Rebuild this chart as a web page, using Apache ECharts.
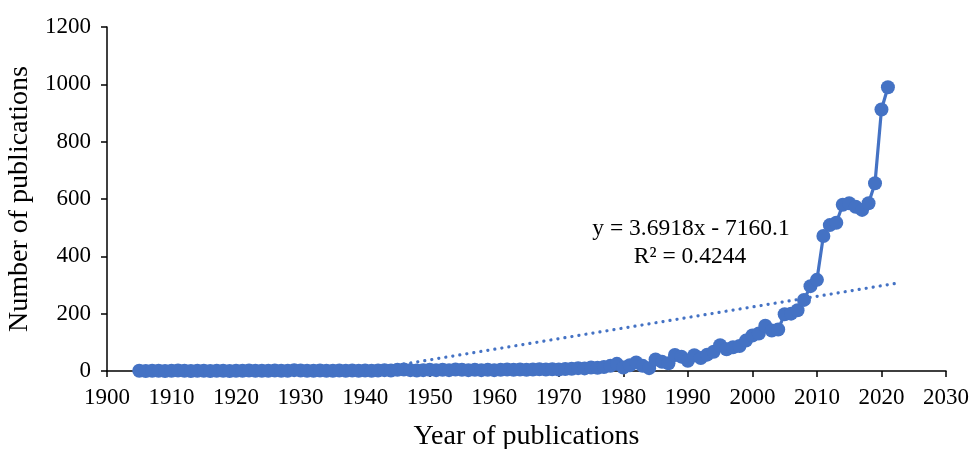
<!DOCTYPE html>
<html>
<head>
<meta charset="utf-8">
<script src="https://cdn.jsdelivr.net/npm/echarts@6/dist/echarts.min.js"></script>
<style>
html,body{margin:0;padding:0;background:#fff;overflow:hidden;}
#main{width:976px;height:449px;}
</style>
</head>
<body>
<div id="main"></div>
<script>
var years = [];
for (var yy = 1905; yy <= 2021; yy++) years.push(yy);
var publications = [
  1,0,1,1,0,1,2,1,0,1, 1,0,1,1,0,1,1,2,1,1, 1,2,1,1,3,2,1,1,2,1, 1,2,1,2,1,2,1,2,3,2,
  4,5,3,2,3,4,3,4,3,5, 4,3,4,3,4,3,4,5,4,5, 4,5,6,5,6,5,
  7,8,10,9,12,11,14,18,25,12, 20,30,18,10,40,32,27,56,50,36,
  55,45,57,67,90,76,83,87,106,124, 131,158,141,145,198,200,212,248,296,318,
  471,509,517,580,585,573,562,585,655,912,990
];
var trendSlope = 3.6918;
var trendIntercept = -7160.1;
var trendEndYear = 2023;
var trendLabel1 = 'y = 3.6918x - 7160.1';
var trendLabel2 = 'R\u00b2 = 0.4244';
var xTicks = [1900, 2030, 10];
var yTicks = [0, 1200, 200];

var seriesData = years.map(function (y, i) { return [y, publications[i]]; });
var trendStart = -trendIntercept / trendSlope;
var trendData = [[trendStart, 0], [trendEndYear, trendSlope * trendEndYear + trendIntercept]];

var chart = echarts.init(document.getElementById('main'), null, {renderer: 'canvas'});
var font = '"Liberation Serif", "Times New Roman", serif';
var blue = '#4472C4';
function plain(v) { return String(v); }
chart.setOption({
  animation: false,
  textStyle: {fontFamily: font},
  grid: {left: 107, right: 30, top: 27, bottom: 78, containLabel: false, outerBoundsMode: 'none'},
  xAxis: {
    type: 'value', min: xTicks[0], max: xTicks[1], interval: xTicks[2],
    name: 'Year of publications', nameLocation: 'middle', nameGap: 52,
    nameTextStyle: {fontFamily: font, fontSize: 28, color: '#000'},
    axisLine: {show: true, onZero: false, lineStyle: {color: '#000', width: 1.5}},
    axisTick: {show: true, length: 6, inside: false, lineStyle: {color: '#000', width: 1.5}},
    axisLabel: {fontFamily: font, fontSize: 23, color: '#000', margin: 15, formatter: plain},
    splitLine: {show: false}
  },
  yAxis: {
    type: 'value', min: yTicks[0], max: yTicks[1], interval: yTicks[2],
    name: 'Number of publications', nameLocation: 'middle', nameGap: 70, nameRotate: 90,
    nameTextStyle: {fontFamily: font, fontSize: 28, color: '#000'},
    axisLine: {show: true, lineStyle: {color: '#000', width: 1.5}},
    axisTick: {show: true, length: 6, inside: false, lineStyle: {color: '#000', width: 1.5}},
    axisLabel: {fontFamily: font, fontSize: 23, color: '#000', margin: 16, formatter: plain},
    splitLine: {show: false}
  },
  series: [
    {
      type: 'line', data: trendData, symbol: 'none', z: 1,
      lineStyle: {color: blue, width: 3.2, type: [0.1, 7], cap: 'round'}
    },
    {
      type: 'line', data: seriesData, symbol: 'circle', symbolSize: 14, z: 2,
      itemStyle: {color: blue}, lineStyle: {color: blue, width: 3.2}
    }
  ],
  graphic: [
    {type: 'text', x: 691, y: 229, style: {text: trendLabel1, font: '23.5px ' + font, fill: '#000', textAlign: 'center', textVerticalAlign: 'middle'}},
    {type: 'text', x: 690, y: 257, style: {text: trendLabel2, font: '23.5px ' + font, fill: '#000', textAlign: 'center', textVerticalAlign: 'middle'}}
  ]
});
</script>
</body>
</html>
